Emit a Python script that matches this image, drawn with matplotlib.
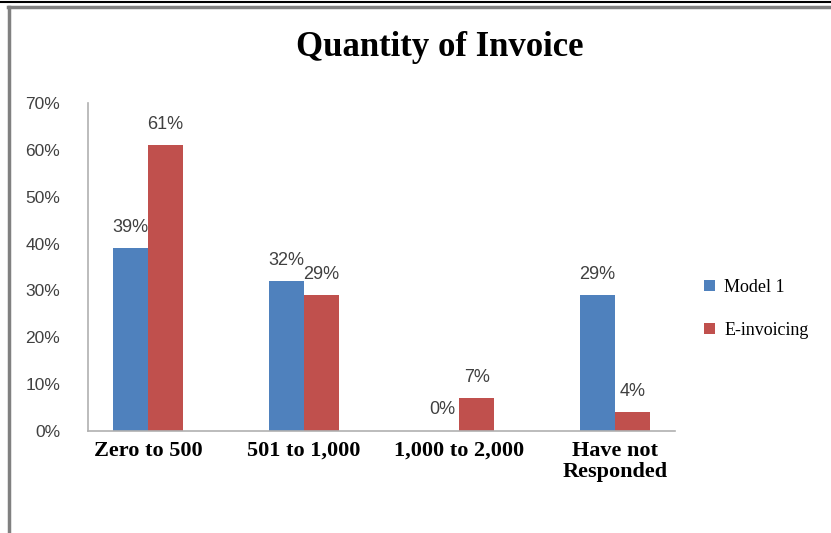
import numpy as np
import matplotlib
matplotlib.use("Agg")
import matplotlib.pyplot as plt
from matplotlib.lines import Line2D

categories = ["Zero to 500", "501 to 1,000", "1,000 to 2,000", "Have not\nResponded"]
model1 = [39, 32, 0, 29]
einvoicing = [61, 29, 7, 4]
series_names = ["Model 1", "E-invoicing"]

blue = "#4F81BD"
red = "#C0504D"
grey_txt = "#404040"

fig = plt.figure(figsize=(8.31, 5.33), dpi=100)
W, H = 831, 533
ax = fig.add_axes([88 / W, 1 - 431 / H, (675 - 88) / W, (431 - 103) / H])

x = np.arange(len(categories))
bw = 0.225
vals1 = np.array(model1) / 100
vals2 = np.array(einvoicing) / 100
b1 = ax.bar(x - bw / 2, vals1, bw, color=blue, label=series_names[0])
b2 = ax.bar(x + bw / 2, vals2, bw, color=red, label=series_names[1])

for bars, vals in ((b1, model1), (b2, einvoicing)):
    for r, v in zip(bars, vals):
        ax.annotate(f"{v}%", (r.get_x() + r.get_width() / 2, r.get_height()),
                    xytext=(0, 9), textcoords="offset points", ha="center", va="bottom",
                    fontsize=13, color=grey_txt, family="Liberation Sans")

ax.set_ylim(0, 0.7)
ax.set_xlim(-0.385, 3.385)
ax.set_yticks(np.arange(0, 0.71, 0.1))
ax.set_yticklabels([f"{int(round(t * 100))}%" for t in np.arange(0, 0.71, 0.1)],
                   fontsize=12.5, color=grey_txt, family="Liberation Sans")
ax.set_xticks(x)
ax.set_xticklabels(categories, fontsize=16, fontweight="bold", family="Liberation Serif",
                   linespacing=1.1)
ax.tick_params(axis="y", length=0, pad=20)
ax.tick_params(axis="x", length=0, pad=7)

for s in ("top", "right"):
    ax.spines[s].set_visible(False)
for s in ("left", "bottom"):
    ax.spines[s].set_color("#B0B0B0")
    ax.spines[s].set_linewidth(1.2)

fig.text(440 / W, 1 - 47 / H, "Quantity of Invoice", ha="center", va="center",
         fontsize=25, fontweight="bold", family="Liberation Serif")

fig.legend(loc="center left", bbox_to_anchor=(688 / W, 1 - 309 / H), frameon=False,
           handlelength=0.6, handleheight=0.6, handletextpad=0.5, labelspacing=1.45,
           prop={"family": "Liberation Serif", "size": 13})

# chart frame
fig.add_artist(Line2D([0, 1], [1 - 2 / H, 1 - 2 / H], color="black", lw=1.5))
fig.add_artist(Line2D([8 / W, 1], [1 - 7 / H, 1 - 7 / H], color="#808080", lw=2.5))
fig.add_artist(Line2D([9 / W, 9 / W], [0, 1 - 7 / H], color="#808080", lw=2.5))

fig.savefig("out.png", dpi=100)
